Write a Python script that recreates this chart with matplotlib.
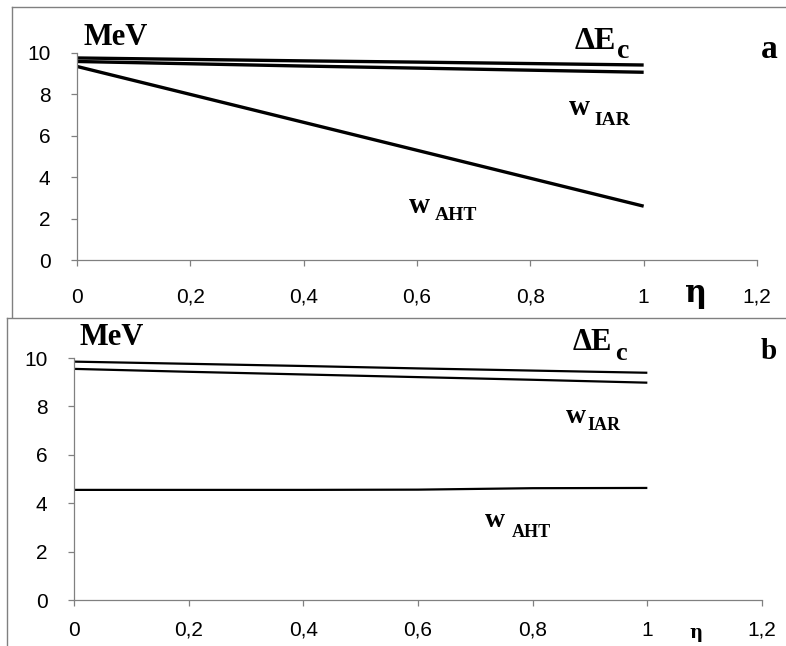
import matplotlib
matplotlib.use("Agg")
import matplotlib.pyplot as plt
from matplotlib.lines import Line2D

W, H = 786, 646

# data
eta = [0, 0.2, 0.4, 0.6, 0.8, 1.0]

# panel a
dEc_a = [9.76, 9.69, 9.62, 9.56, 9.49, 9.42]
wIAR_a = [9.59, 9.48, 9.37, 9.27, 9.17, 9.07]
wAHT_a = [9.35, 8.0, 6.65, 5.3, 3.95, 2.6]

# panel b
dEc_b = [9.85, 9.76, 9.67, 9.57, 9.48, 9.39]
wIAR_b = [9.55, 9.43, 9.32, 9.21, 9.10, 8.98]
wAHT_b = [4.55, 4.55, 4.55, 4.56, 4.62, 4.63]

xticks = [0, 0.2, 0.4, 0.6, 0.8, 1.0, 1.2]
xticklabels = ["0", "0,2", "0,4", "0,6", "0,8", "1", "1,2"]
yticks = [0, 2, 4, 6, 8, 10]

GRAY = "#808080"
TICKFONT = "Liberation Sans"
SERIF = "Liberation Serif"

plt.rcParams["font.family"] = [TICKFONT, "DejaVu Sans"]

fig = plt.figure(figsize=(W / 100, H / 100), dpi=100)


def px_axes(left, right, top, bottom):
    return fig.add_axes([left / W, 1 - bottom / H, (right - left) / W, (bottom - top) / H])


def txt(x, y, s, size, ha="left", family=SERIF, va="baseline"):
    fig.text(x / W, 1 - y / H, s, fontsize=size, fontweight="bold",
             family=family, ha=ha, va=va, color="black")


def style_axes(ax, xpad, ypad):
    ax.set_xlim(0, 1.2)
    ax.set_ylim(0, 10)
    ax.set_xticks(xticks)
    ax.set_xticklabels(xticklabels)
    ax.set_yticks(yticks)
    for s in ["top", "right"]:
        ax.spines[s].set_visible(False)
    for s in ["left", "bottom"]:
        ax.spines[s].set_color(GRAY)
        ax.spines[s].set_linewidth(0.9)
    ax.tick_params(axis="x", direction="out", length=4, width=0.9, color=GRAY,
                   labelsize=15, pad=xpad)
    ax.tick_params(axis="y", direction="out", length=4, width=0.9, color=GRAY,
                   labelsize=15, pad=ypad)
    ax.patch.set_alpha(0)


# panel frames
fig.add_artist(Line2D([12 / W, 12 / W], [1 - 7 / H, 1 - 317 / H], color=GRAY, lw=1))
fig.add_artist(Line2D([12 / W, 1], [1 - 7 / H, 1 - 7 / H], color=GRAY, lw=1))
fig.add_artist(Line2D([7 / W, 7 / W], [1 - 318 / H, 0], color=GRAY, lw=1))
fig.add_artist(Line2D([7 / W, 1], [1 - 318 / H, 1 - 318 / H], color=GRAY, lw=1))

# ---- panel a ----
ax1 = px_axes(77, 757, 53, 260)
style_axes(ax1, xpad=16, ypad=15)
for y in [dEc_a, wIAR_a, wAHT_a]:
    ax1.plot(eta, y, color="black", lw=2.4, solid_capstyle="butt")

txt(84, 45, "MeV", 22)
txt(575, 49, "ΔE", 23)
txt(617, 58, "c", 20)
txt(761, 58, "a", 24)
txt(569, 115, "w", 21)
txt(594, 125, "IAR", 14)
txt(409, 213, "w", 21)
txt(435, 220, "AHT", 14)
txt(696, 302, "η", 22, ha="center", family="DejaVu Serif")

# ---- panel b ----
ax2 = px_axes(74, 762, 358, 600)
style_axes(ax2, xpad=11, ypad=15)
for y in [dEc_b, wIAR_b, wAHT_b]:
    ax2.plot(eta, y, color="black", lw=1.6, solid_capstyle="butt")

txt(80, 345, "MeV", 22)
txt(573, 350, "ΔE", 22)
txt(615, 360, "c", 19)
txt(761, 359, "b", 21)
txt(566, 423, "w", 20)
txt(587, 430, "IAR", 13)
txt(485, 527, "w", 20)
txt(512, 537, "AHT", 13)
txt(696, 624, "η", 13, ha="center", family="DejaVu Serif", va="top")

fig.savefig("out.png", dpi=100)
